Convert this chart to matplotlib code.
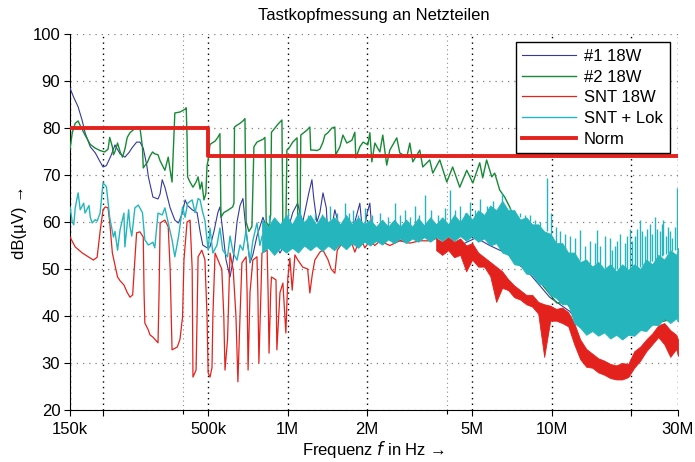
import numpy as np
import matplotlib
matplotlib.use("Agg")
import matplotlib.pyplot as plt
from matplotlib.ticker import FixedLocator, FixedFormatter, NullFormatter

plt.rcParams['font.family'] = ['Liberation Sans', 'DejaVu Sans']

# ---------------- data (frequencies in kHz, levels in dB(uV)) ----------------
blue_f = [150, 155, 161, 167, 171, 179, 187, 195, 200, 206, 214, 222, 232, 242, 251, 257, 268, 276, 284, 293,
          297, 309, 323, 329, 335, 343, 359, 374, 386, 400, 409, 418, 435, 454, 466, 477, 495, 508, 526, 544,
          554, 568, 584, 605, 622, 643, 660, 677, 696, 720, 738, 765, 785, 806, 829, 857, 879, 903, 935, 967,
          1001, 1045, 1090, 1112, 1140, 1170, 1200, 1235, 1255, 1290, 1324, 1360, 1400, 1420, 1460, 1508, 1550,
          1590, 1646, 1719, 1795, 1875, 1925, 2000, 2046, 2090, 2190, 2290, 2435, 2543, 2656, 2898, 3162, 3449,
          3670, 3763, 4105, 4288, 4678, 5103, 5330, 5815, 6344, 6770, 7229, 7716, 8237, 8987, 9804, 10696,
          11669, 12730, 15152, 18033, 21464, 25547, 29900]
blue_db = [88.5, 86.5, 84.5, 81.5, 79, 76, 74.7, 72.8, 71.7, 72, 74, 76.4, 74.5, 73.8, 74.8, 75.7, 77, 77, 75.7, 72,
           69.6, 65.3, 64.9, 66, 69, 67.4, 63, 60.4, 59.8, 62, 64.7, 63.5, 62.6, 62, 58, 55.1, 54.5, 54.7, 58, 62,
           63.2, 58, 52, 48.3, 52, 60, 63.5, 65, 58, 51.3, 53, 57, 59, 61, 59, 57.5, 56.8, 55, 53.4, 55,
           58.3, 62, 64, 62, 60, 63, 66, 69, 65, 60, 62, 66.2, 63, 56.8, 58, 62.6, 60,
           56, 57.5, 57, 60, 64, 57, 62, 64, 57, 58, 55.5, 57, 60, 56, 57, 56.5, 57,
           56.5, 54.7, 55, 53.5, 55.5, 56.5, 56.2, 55, 54, 53.4, 51.5, 50.4, 49, 46.5, 44, 42.5,
           41, 38.5, 37, 36.5, 37, 39, 40]

green_f = [150, 153, 157, 161, 164, 171, 179, 187, 195, 203, 209, 212, 217, 219, 222, 227, 232, 237, 242, 247,
           253, 259, 268, 276, 282, 284, 288, 294, 301, 308, 314, 323, 329, 343, 353, 359, 365, 369, 374, 391,
           409, 413, 416, 418, 427, 438, 450, 458, 466, 473, 482, 490, 495, 500, 508, 517, 531, 544, 554, 559,
           573, 594, 619, 626, 629, 643, 660, 677, 689, 696, 713, 732, 745, 765, 785, 806, 820, 829, 850, 862,
           868, 895, 918, 951, 959, 984, 993, 1019, 1045, 1085, 1093, 1112, 1121, 1150, 1180, 1213, 1222, 1258,
           1290, 1324, 1360, 1383, 1420, 1470, 1508, 1520, 1576, 1618, 1674, 1750, 1795, 1811, 1875, 1930, 2010,
           2046, 2082, 2137, 2232, 2290, 2370, 2435, 2587, 2656, 2823, 2898, 2975, 3162, 3244, 3449, 3540, 3763,
           4000, 4210, 4479, 4760, 5020, 5330, 5470, 5660, 5920, 6074, 6344, 6626, 6921, 7229, 7551, 8460, 9550,
           10420, 11370, 12730, 15152, 18033, 21464, 25547, 29900]
green_db = [75.5, 79, 81, 81.5, 80.5, 78.5, 76.5, 75.7, 75.2, 74.9, 75.5, 78, 76, 74.3, 75, 76.8, 75, 73.8, 75.5, 78,
            79, 79.5, 80.2, 80, 76, 71.5, 72, 72.6, 74, 74.9, 74.5, 74.3, 73, 71, 73.8, 71, 68.5, 75, 83.2, 83.4,
            84, 84.3, 78, 69.6, 68.5, 67.4, 68.5, 69.6, 67, 68.5, 64.7, 66, 72, 73.2, 76.5, 76.8, 77.2, 78, 78.8, 61,
            62, 62.5, 63.2, 64, 80.2, 80.6, 81, 81.5, 82, 60, 58, 59, 76, 77, 77.3, 77.6, 78, 60, 59, 61.5,
            79.1, 80, 80.8, 81.7, 58, 58.5, 75.3, 76, 77, 77.9, 56, 55.7, 78.5, 79, 79.5, 80.2, 75.3, 75.3,
            75.2, 75.5, 77, 78.5, 79, 80, 80.2, 74.3, 76, 78.5, 76.8, 77.4, 79.1, 73.6, 76, 77, 76.4,
            79, 72.8, 76.8, 74.9, 78.5, 72.1, 75.3, 77.9, 74.7, 73.8, 76.8, 72.8, 75.3, 71.7, 73.2, 70.4, 73.2,
            68.5, 71.7, 67.4, 71, 68.3, 72.6, 69.4, 73.2, 69.6, 70.4, 66.8, 65.3, 63.2, 60.4, 59, 49.1, 45.5,
            42.8, 42.8, 39, 37, 36, 37, 38.7, 39.6]

red_f = [150, 157, 167, 177, 184, 190, 195, 200, 204, 209, 212, 217, 227, 232, 240, 247, 253, 259, 264, 268,
         276, 284, 286, 288, 297, 301, 309, 323, 326, 329, 343, 353, 359, 365, 382, 391, 400, 405, 416, 427,
         435, 438, 450, 454, 458, 473, 486, 495, 500, 508, 517, 521, 531, 554, 563, 573, 579, 592, 605, 622,
         637, 648, 660, 671, 696, 702, 708, 720, 738, 765, 771, 778, 792, 799, 836, 843, 850, 862, 868, 903,
         910, 935, 959, 984, 1001, 1019, 1040, 1065, 1090, 1140, 1190, 1213, 1240, 1267, 1324, 1360, 1420,
         1460, 1508, 1540, 1618, 1700, 1760, 1795, 1850, 1910, 1958, 2046, 2137, 2232, 2435, 2656, 2898,
         3162, 3449, 3647]
red_db = [56.8, 54.7, 53.4, 52.5, 51.9, 52.5, 58, 62.6, 63.2, 63, 60, 53.4, 48.3, 47.5, 46.6, 45, 44, 44.5, 52, 57.7,
          57.9, 56.8, 45, 38.5, 37, 36, 35.5, 34.3, 45, 59.8, 60.4, 59, 50, 32.8, 33.4, 35, 39.8, 52, 60, 60.4,
          50, 27, 28.5, 40, 52.6, 54, 52, 40, 27.9, 27, 29, 40, 53.4, 50.9, 50, 40, 28.5, 35, 53.4, 49.8,
          40, 26, 40, 51.3, 52.6, 45, 28.5, 45, 51.9, 52.6, 45, 30, 45, 53.4, 54, 45, 32.1, 45, 48.3, 47.7,
          32.8, 45, 47, 36.4, 48, 52.3, 45.5, 53, 52, 50.4, 50, 44.9, 49, 51.9, 53.6, 54, 52,
          50, 49.1, 54, 55.7, 56.6, 55, 53.6, 55.5, 56, 54.5, 56, 55, 56, 55, 56, 55.5,
          56, 56, 56.5]

# common frequency grid for the dense noise bands (kHz)
band_f = [800, 843, 888, 936, 986, 1039, 1095, 1154, 1216, 1281, 1350, 1422, 1499, 1579, 1664, 1753, 1847,
          1947, 2051, 2161, 2277, 2400, 2528, 2664, 2807, 2958, 3117, 3284, 3461, 3647, 3842, 4049, 4266,
          4495, 4737, 4991, 5259, 5541, 5839, 6152, 6483, 6831, 7197, 7584, 7991, 8420, 8872, 9349, 9851,
          10380, 10937, 11524, 12143, 12795, 13482, 14206, 14969, 15773, 16620, 17512, 18453, 19444, 20488,
          21588, 22747, 23969, 25256, 26612, 28041, 29547, 30000]

# SNT 18W noise band (from 3.65 MHz, i.e. band_f[29:])
red_band_lo = [54, 53, 54, 52.5, 53, 49.5, 52, 50.5, 50.5, 48.5, 43, 46, 45.5, 44, 43.5, 42.5, 42, 40.5, 31.3,
               39, 39, 38.5, 37.8, 34, 30.8, 29.2, 29, 28, 27.5, 26.8, 26.5, 26.5, 27, 29, 30.5, 32.5, 34,
               35.5, 34, 31.3, 33, 31.5]
red_band_hi = [56.5, 55.8, 56.8, 55.8, 56.5, 55, 55.5, 53.5, 52.5, 51.5, 50.5, 49.5, 47.8, 46.5, 45.5, 44.5,
               44.5, 43, 42.5, 42.2, 41.5, 41.8, 40.8, 38.5, 35, 33, 32, 31, 30.5, 29.8, 29.5, 30, 29.8, 32.5,
               33.5, 35, 36.3, 38, 38.5, 37, 36, 35]

cyan_f = [150, 153, 155, 157, 161, 164, 169, 171, 177, 179, 182, 187, 190, 195, 200, 204, 206, 212, 219, 222,
          227, 232, 240, 242, 250, 253, 257, 264, 272, 282, 288, 297, 309, 314, 323, 335, 343, 353, 365, 374,
          386, 400, 409, 418, 435, 446, 458, 466, 477, 486, 500, 508, 521, 540, 554, 568, 592, 605, 622, 643,
          660, 677, 696, 720, 738, 765, 785, 800]
cyan_db = [63.2, 60, 59.4, 63, 66.2, 62.6, 64, 61.9, 63.5, 61, 59.8, 60.5, 60.2, 61.9, 68.3, 67.8, 67.5, 61, 56.8, 58,
           54, 58.3, 61.9, 54.7, 62.6, 59, 57, 63, 63.6, 62, 56.2, 55.1, 55.7, 54.5, 61.9, 61.5, 63, 59.8, 56.2, 52.6,
           56.8, 63.2, 61, 64, 64.7, 62, 65, 64.7, 62, 60.4, 54, 58.7, 53.4, 55.1, 58.7, 54, 52.6, 57, 53.4, 51.9,
           55.1, 54, 58.3, 51.5, 56, 59.8, 55, 57]

# SNT + Lok noise band (whole band_f grid)
cyan_band_lo = [53.5, 54.5, 53, 54.5, 53.5, 54.5, 53.5, 55, 54, 55, 53.8, 55, 54, 55.3, 54.2, 55.5, 54.5, 55.8,
                55, 56, 55.2, 56.3, 55.5, 56.5, 55.5, 56.5, 55.8, 56.8, 55.8, 56.8, 56, 57, 56, 57, 56, 57,
                55.8, 56.5, 55, 55.5, 53.5, 53, 51, 50.8, 49, 48.8, 47, 46.5, 44.5, 43.8, 42.5, 42.5, 38.5,
                37.5, 36, 36.8, 35.8, 36.5, 35.2, 36, 35, 36, 35.8, 37, 36.8, 38.2, 38, 39.5, 38.5, 39.5, 38.8]
cyan_band_hi = [60.5, 59, 61, 59.5, 61.5, 59.5, 62, 60, 61.5, 59.5, 61.5, 60, 61, 59.5, 61.5, 59.5, 61, 59.5,
                60.5, 59, 60.5, 59, 60.5, 59, 60.5, 59, 60.8, 59.3, 61, 59.5, 61, 59.5, 61.5, 60, 62, 60.5,
                62.5, 61.5, 63.5, 62.5, 64.5, 62.5, 62.5, 60.5, 61, 59.5, 59.5, 58, 57.5, 55.5, 55.5, 53.5,
                53.5, 51.5, 52, 50.5, 51.5, 50, 51, 49.5, 51, 49.8, 51, 50, 52, 51, 53, 52, 54, 53, 54.5]

cyan_spike_f = [850, 1000, 1112, 1190, 1267, 1350, 1444, 1540, 1646, 1700, 1760, 1847, 1958, 2090, 2232, 2400,
                2543, 2650, 2775, 2900, 3027, 3150, 3302, 3500, 3700, 3930, 4105, 4300, 4479, 4700, 4886, 5100,
                5330, 5700, 6000, 6460, 6921, 7200, 7551, 7900, 8237, 8600, 8987, 9550, 9930, 10380, 10696,
                11172, 11669, 12188, 12730, 13297, 13888, 14506, 14800, 15152, 15826, 16530, 16900, 17265,
                17700, 18033, 18836, 19200, 19674, 20100, 20549, 21000, 21464, 21900, 22419, 22900, 23416,
                23900, 24458, 25000, 25547, 26000, 26400, 27000, 27400, 27871, 28500, 29100, 29700]
cyan_spike_top = [61.5, 62.5, 63, 61.5, 62, 61.8, 63.5, 62, 64, 62, 62.5, 61.5, 63, 61.5, 62, 61,
                  64, 61.5, 62.5, 61, 63.5, 61.5, 65.7, 62.5, 61.5, 63, 66.8, 62.5, 63.5, 62, 64.3, 62.5,
                  65, 63.5, 64.5, 66.2, 63, 62.5, 62, 61.5, 61.5, 60.5, 60, 69.4, 62, 59, 58,
                  57.5, 57, 56.5, 58.3, 55, 56, 55.5, 58.3, 55, 57, 56.5, 54, 55,
                  56, 57.5, 55.5, 57, 58.5, 56, 57, 58.5, 60.4, 58, 57, 58.5, 59.5,
                  57.5, 61, 58.5, 58, 59.5, 60.4, 57, 59, 58, 56.5, 59, 67.2]
cyan_spike_base = [59.5, 60, 60.5, 60, 60.5, 60, 60.5, 60, 60, 60, 59.5, 59.5, 59.5, 59, 59, 59,
                   58.8, 58.8, 58.8, 59, 59, 59, 59, 59, 59.3, 59.3, 59.5, 60, 60, 60.5, 60.5, 61,
                   61, 62, 62.5, 63, 62, 61.5, 61, 60.5, 60, 59.5, 59, 58, 56.5, 55.5, 55,
                   54, 53.5, 53, 51.9, 51.5, 51, 51, 50.7, 50.5, 50.3, 50, 50, 50,
                   50, 49.8, 49.8, 50, 50, 50, 50.2, 50.3, 50.5, 50.8, 51, 51.2, 51.5,
                   51.8, 52, 52.3, 52.6, 52.8, 53, 53.2, 53.3, 53.5, 53.8, 54, 54]

norm_f = [150, 500, 30000]
norm_db = [80, 74, 74]

xtick_f = [150, 200, 500, 1000, 2000, 5000, 10000, 20000, 30000]
xtick_lab = ['150k', '', '500k', '1M', '2M', '5M', '10M', '', '30M']
xminor_f = [400, 4000]
ytick_v = [20, 30, 40, 50, 60, 70, 80, 90, 100]

c_blue = '#34399a'
c_green = '#178a35'
c_red = '#e3221d'
c_cyan = '#25b6bd'

# ---------------- figure ----------------
fig = plt.figure(figsize=(6.95, 4.62), dpi=100)
ax = fig.add_axes([70 / 695, 52 / 462, 608 / 695, 376 / 462])
ax.set_xscale('log')

kHz = 1e3
bf = np.array(band_f) * kHz
ax.plot(np.array(blue_f) * kHz, blue_db, color=c_blue, lw=0.8, label='#1 18W', zorder=3)
ax.plot(np.array(green_f) * kHz, green_db, color=c_green, lw=1.0, label='#2 18W', zorder=3)
ax.plot(np.array(red_f) * kHz, red_db, color=c_red, lw=0.9, label='SNT 18W', zorder=4)
ax.fill_between(bf[29:], red_band_lo, red_band_hi, color=c_red, lw=0.6, zorder=4)
ax.plot(np.array(cyan_f) * kHz, cyan_db, color=c_cyan, lw=1.0, label='SNT + Lok', zorder=5)
ax.fill_between(bf, cyan_band_lo, cyan_band_hi, color=c_cyan, lw=0.6, zorder=5)
ax.vlines(np.array(cyan_spike_f) * kHz, cyan_spike_base, cyan_spike_top, color=c_cyan, lw=1.0, zorder=5)
ax.step(np.array(norm_f) * kHz, norm_db, where='post', color=c_red, lw=2.8, label='Norm', zorder=6)

ax.set_xlim(150e3, 30e6)
ax.set_ylim(20, 100)

ax.xaxis.set_major_locator(FixedLocator(np.array(xtick_f) * kHz))
ax.xaxis.set_major_formatter(FixedFormatter(xtick_lab))
ax.xaxis.set_minor_locator(FixedLocator(np.array(xminor_f) * kHz))
ax.xaxis.set_minor_formatter(NullFormatter())
ax.set_yticks(ytick_v)

ax.tick_params(axis='both', which='both', direction='out', length=4, width=0.8, labelsize=12)
ax.tick_params(axis='x', which='both', pad=5)
ax.tick_params(axis='y', pad=3)
ax.tick_params(axis='x', which='minor', length=3)

for s in ['top', 'right']:
    ax.spines[s].set_visible(False)
for s in ['left', 'bottom']:
    ax.spines[s].set_linewidth(0.8)

ax.grid(True, which='major', axis='x', color='black', linestyle=(0, (1, 3)), lw=1.0, zorder=1)
ax.grid(True, which='minor', axis='x', color='0.55', linestyle=(0, (1, 3)), lw=0.8, zorder=1)
ax.grid(True, which='major', axis='y', color='0.5', linestyle=(0, (1, 4)), lw=0.9, zorder=1)

ax.set_title('Tastkopfmessung an Netzteilen', fontsize=12, pad=10)
ax.set_xlabel('Frequenz $f$ in Hz \u2192', fontsize=12, labelpad=1)
ax.set_ylabel('dB(\u00b5V) \u2192', fontsize=12, labelpad=4)

leg = ax.legend(loc='upper right', fontsize=12, frameon=True, fancybox=False, framealpha=1,
                edgecolor='black', borderaxespad=0.5, handlelength=3.2, handletextpad=0.5,
                labelspacing=0.34, borderpad=0.4)
leg.get_frame().set_linewidth(1.0)
leg.set_zorder(10)

fig.savefig('out.png', dpi=100)
